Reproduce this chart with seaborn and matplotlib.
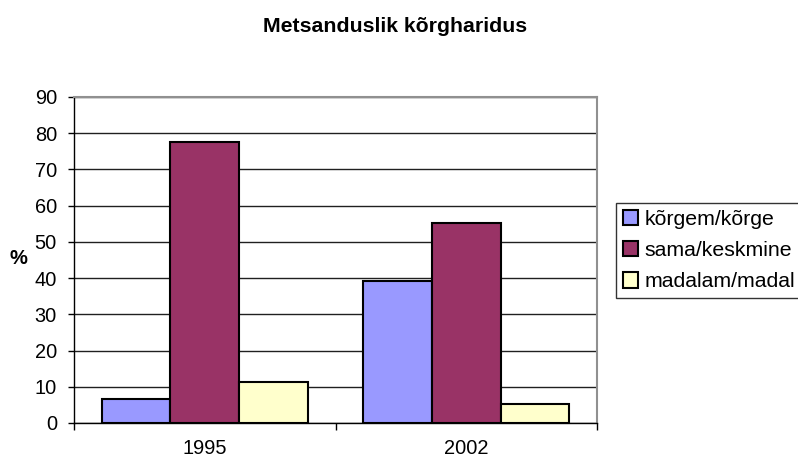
import numpy as np
import pandas as pd
import matplotlib
matplotlib.use('Agg')
import matplotlib.pyplot as plt
import seaborn as sns

# values
years = ['1995', '2002']
series = ['kõrgem/kõrge', 'sama/keskmine', 'madalam/madal']
korgem = [6.5, 39.1]
sama = [77.7, 55.3]
madalam = [11.2, 5.2]
colors = ['#9999FF', '#993366', '#FFFFCC']

df = pd.DataFrame({
    'year': years * 3,
    'group': [series[0]] * 2 + [series[1]] * 2 + [series[2]] * 2,
    'value': korgem + sama + madalam,
})

sns.set_style('white')
plt.rcParams['font.family'] = ['Liberation Sans', 'DejaVu Sans']
plt.rcParams['text.color'] = 'black'
plt.rcParams['xtick.color'] = 'black'
plt.rcParams['ytick.color'] = 'black'

fig = plt.figure(figsize=(7.98, 4.63), dpi=100)
ax = fig.add_axes([74 / 798, 1 - 423 / 463, (597 - 74) / 798, (423 - 97) / 463])

sns.barplot(data=df, x='year', y='value', hue='group', hue_order=series,
            palette=colors, width=0.786, saturation=1, edgecolor='black',
            linewidth=1.5, ax=ax, legend=True)

ax.set_xlim(-0.5, 1.5)
ax.set_ylim(0, 90)
ax.set_yticks(range(0, 91, 10))
ax.yaxis.grid(True, color='#202020', linewidth=1)
ax.set_axisbelow(True)

# category boundary ticks like Excel
ax.set_xticks([-0.5, 0.5, 1.5], minor=True)
ax.tick_params(axis='x', which='major', length=0, labelsize=14.4, pad=11.5)
ax.tick_params(axis='x', which='minor', length=5, width=1, color='black', direction='out', bottom=True)
ax.tick_params(axis='y', which='major', length=4.3, width=1, color='black', direction='out', left=True,
               labelsize=14.4, pad=8)

for side in ['left', 'bottom']:
    ax.spines[side].set_color('black')
    ax.spines[side].set_linewidth(1)
for side in ['top', 'right']:
    ax.spines[side].set_color('#909090')
    ax.spines[side].set_linewidth(1.5)

ax.set_xlabel('')
ax.set_ylabel('')
fig.text(18 / 798, 1 - 259 / 463, '%', fontsize=14.5, fontweight='bold', ha='center', va='center')

fig.text(394.7 / 798, 1 - 32 / 463, 'Metsanduslik kõrgharidus', fontsize=15.3, fontweight='bold',
         ha='center', va='baseline')

handles, labels = ax.get_legend_handles_labels()
ax.legend_.remove()
leg = fig.legend(handles, labels, loc='upper left', bbox_to_anchor=(616 / 798, 1 - 203 / 463),
                 fontsize=15.3, frameon=True, fancybox=False, edgecolor='black',
                 handlelength=0.72, handleheight=0.72, handletextpad=0.29,
                 borderpad=0.32, labelspacing=0.58, borderaxespad=0)
leg.get_frame().set_linewidth(1)
for h in leg.legend_handles:
    h.set_linewidth(1.5)

fig.savefig('out.png', dpi=100)
